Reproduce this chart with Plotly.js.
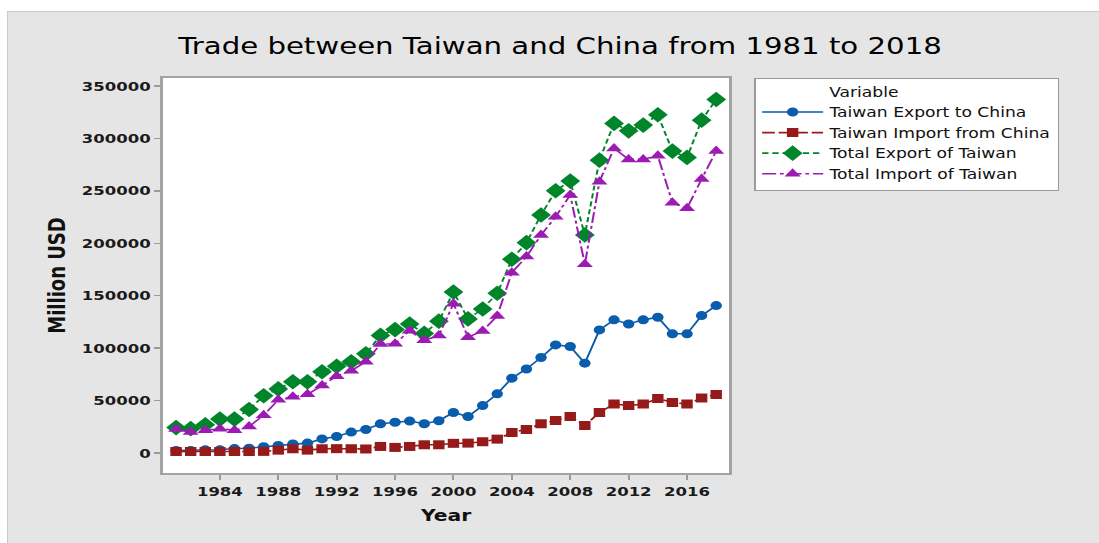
<!DOCTYPE html>
<html>
<head>
<meta charset="utf-8">
<script src="https://cdn.plot.ly/plotly-3.0.1.min.js"></script>
<style>
  html, body { margin: 0; padding: 0; background: #ffffff; overflow: hidden; }
  #frame { position: absolute; left: 7px; top: 11px; width: 1091px; height: 531px; border: 1px solid #c9c9c9; background: #e5e5e5; overflow: hidden; }
  #chart { width: 859px; height: 531px; transform: scaleX(1.27); transform-origin: 0 0; }
</style>
</head>
<body>
<div id="frame"><div id="chart"></div></div>
<script>
const years = [1981,1982,1983,1984,1985,1986,1987,1988,1989,1990,1991,1992,1993,1994,1995,1996,1997,1998,1999,2000,2001,2002,2003,2004,2005,2006,2007,2008,2009,2010,2011,2012,2013,2014,2015,2016,2017,2018];

const exportToChina = [2500,2500,3100,3100,4300,4600,6000,7300,8700,9500,13500,15800,20000,22500,27900,29400,30500,28000,30800,38700,34900,45300,56500,71400,80200,91100,103100,101600,85700,117400,127000,123100,127000,129500,113700,113700,131100,140600];

const importFromChina = [1400,1400,1400,1400,1500,1500,1600,2800,4100,2800,4100,4200,4100,3900,6300,5400,6300,7900,7900,9300,9500,10800,13300,19600,22500,27900,31100,34900,26300,38700,46700,45300,46700,52000,48200,46700,52400,55800];

const totalExport = [24300,23300,27000,32400,32400,41500,54600,61200,68000,67900,77500,82800,87000,94600,112200,117700,123000,114100,125800,153600,127900,137400,152400,184800,200600,227000,250100,259300,207900,279300,314300,307200,312700,322500,287900,281900,317400,337100];

const totalImport = [23000,20000,21800,23300,21800,25300,36100,50800,53600,56000,64400,73300,78500,87100,103900,104200,116600,107500,112000,142400,110500,116500,130800,172000,187300,207900,225300,246000,180000,258700,290500,280000,280000,283500,238700,233300,261300,287900];

const seriesNames = ["Taiwan Export to China", "Taiwan Import from China", "Total Export of Taiwan", "Total Import of Taiwan"];
const yTicks = [0,50000,100000,150000,200000,250000,300000,350000];
const xTicks = [1984,1988,1992,1996,2000,2004,2008,2012,2016];

const traces = [
  {x: years, y: exportToChina, name: seriesNames[0], mode: 'lines+markers',
   line: {color: '#0a5cad', width: 1.6, dash: 'solid'},
   marker: {symbol: 'circle', size: 9, color: '#0a5cad'}},
  {x: years, y: importFromChina, name: seriesNames[1], mode: 'lines+markers',
   line: {color: '#961a1a', width: 1.6, dash: '10px,3px'},
   marker: {symbol: 'square', size: 9, color: '#961a1a'}},
  {x: years, y: totalExport, name: seriesNames[2], mode: 'lines+markers',
   line: {color: '#00852b', width: 1.6, dash: '5px,3px'},
   marker: {symbol: 'diamond', size: 12, color: '#00852b'}},
  {x: years, y: totalImport, name: seriesNames[3], mode: 'lines+markers',
   line: {color: '#9c1bb3', width: 1.6, dash: '11px,3px,3px,3px'},
   marker: {symbol: 'triangle-up', size: 11, color: '#9c1bb3'}}
];

const tickFont = {family: 'DejaVu Sans', size: 13, color: '#1a1a1a', weight: 700};
const nb = '\u00A0';

const layout = {
  width: 859, height: 531,
  paper_bgcolor: 'rgba(0,0,0,0)', plot_bgcolor: '#ffffff',
  margin: {l: 122, r: 291, t: 66, b: 70},
  showlegend: true,
  title: {text: 'Trade between Taiwan and China from 1981 to 2018',
          font: {family: 'DejaVu Sans', size: 23, color: '#000000'},
          x: 0.506, xanchor: 'center', xref: 'container', y: 0.936, yanchor: 'middle', yref: 'container'},
  xaxis: {range: [1980.1, 2018.9], tickmode: 'array', tickvals: xTicks, ticktext: xTicks.map(String),
          ticks: 'outside', ticklen: 5, tickwidth: 1.5, tickcolor: '#9a9a9a',
          showline: true, linecolor: '#a3a3a3', linewidth: 2, mirror: true,
          showgrid: false, zeroline: false,
          tickfont: tickFont,
          title: {text: 'Year', font: {family: 'DejaVu Sans', size: 16, color: '#111111', weight: 700}, standoff: 12}},
  yaxis: {range: [-19000, 357600], tickmode: 'array', tickvals: yTicks, ticktext: yTicks.map(String),
          ticks: 'outside', ticklen: 5, tickwidth: 1.5, tickcolor: '#9a9a9a',
          showline: true, linecolor: '#a3a3a3', linewidth: 2, mirror: true,
          showgrid: false, zeroline: false,
          tickfont: tickFont,
          title: {text: 'Million USD', font: {family: 'DejaVu Sans', size: 18, color: '#111111', weight: 700}, standoff: 8}},
  legend: {x: 1.044, xanchor: 'left', y: 1.0, yanchor: 'top', xref: 'paper', yref: 'paper',
           bgcolor: '#ffffff', bordercolor: '#9a9a9a', borderwidth: 1.2,
           font: {family: 'DejaVu Sans', size: 13.5, color: '#111111'},
           itemwidth: 48, tracegroupgap: 0,
           title: {text: nb.repeat(13) + 'Variable', side: 'top', font: {family: 'DejaVu Sans', size: 13.5, color: '#111111'}}}
};

Plotly.newPlot('chart', traces, layout, {displayModeBar: false, staticPlot: true});
</script>
</body>
</html>
